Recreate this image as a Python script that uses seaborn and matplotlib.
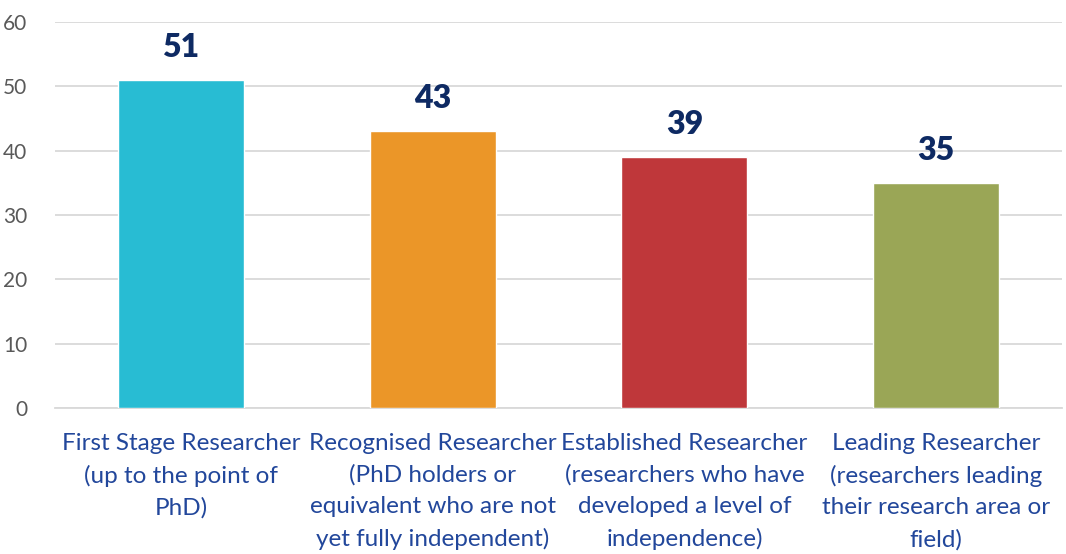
import matplotlib
matplotlib.use('Agg')
import matplotlib.pyplot as plt
import seaborn as sns
import pandas as pd

categories = ['First Stage Researcher\n(up to the point of\nPhD)',
              'Recognised Researcher\n(PhD holders or\nequivalent who are not\nyet fully independent)',
              'Established Researcher\n(researchers who have\ndeveloped a level of\nindependence)',
              'Leading Researcher\n(researchers leading\ntheir research area or\nfield)']
values = [51, 43, 39, 35]
colors = ['#28BCD3', '#EB9628', '#BF373A', '#9AA656']
yticks = [0, 10, 20, 30, 40, 50, 60]

data = pd.DataFrame({'cat': categories, 'val': values})

sns.set_style('white')
plt.rcParams['font.family'] = ['Lato', 'DejaVu Sans']

fig = plt.figure(figsize=(10.66, 5.54), dpi=100)
ax = fig.add_axes([55/1066, 146/554, 1007/1066, (408-22)/554])
sns.barplot(data=data, x='cat', y='val', hue='cat', palette=colors, width=0.5,
            legend=False, ax=ax, saturation=1, zorder=3)

ax.set_ylim(0, 60)
ax.set_yticks(yticks)
ax.set_xlim(-0.5, 3.5)
ax.grid(axis='y', color='#D9D9D9', linewidth=1.3, zorder=0)
for s in ['top', 'right', 'left']:
    ax.spines[s].set_visible(False)
ax.spines['bottom'].set_color('#D9D9D9')
ax.spines['bottom'].set_linewidth(1.3)
ax.set_xlabel('')
ax.set_ylabel('')
ax.tick_params(axis='y', colors='#595959', labelsize=15, length=0, pad=20)
ax.tick_params(axis='x', colors='#22479B', labelsize=17.5, length=0, pad=18)
for lab in ax.get_xticklabels():
    lab.set_linespacing(1.6)

for c in ax.containers:
    ax.bar_label(c, fmt='%d', padding=13, fontsize=23, fontweight='heavy', color='#0E2A63')

fig.savefig('out.png', dpi=100)
